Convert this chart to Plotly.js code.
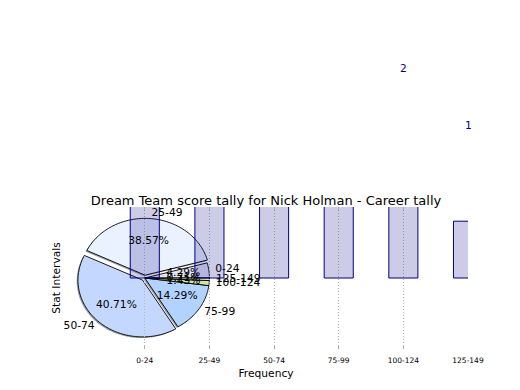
<!DOCTYPE html>
<html>
<head>
<meta charset="utf-8">
<script src="https://cdn.plot.ly/plotly-3.0.1.min.js"></script>
<style>html,body{margin:0;padding:0;background:#fff;}#chart{width:520px;height:390px;}</style>
</head>
<body>
<div id="chart"></div>
<script>
// ---- data ----
const categories = ['0-24', '25-49', '50-74', '75-99', '100-124', '125-149'];
const counts = [6, 54, 57, 20, 2, 1];
const explode = [0, 0.05, 0.05, 0, 0, 0];
const sliceColors = ['#E4E4F4', '#EAF1FF', '#C4D8FF', '#B2D2FF', '#D2E6A4', '#EEF0C8'];

// ---- styling constants ----
const FONT = 'DejaVu Sans, sans-serif';
const NAVY = '#000080';
const barLabelOffset = 1.69;
const yRange = [-1.25, 1.25];
const xRange = [-1.25, 5];
const W = 520, H = 390, M = {l: 64, r: 52, t: 207, b: 41};

const total = counts.reduce((a, b) => a + b, 0);
const xIdx = categories.map((_, i) => i);

function hexToRgb(h) {
  const v = parseInt(h.slice(1), 16);
  return [(v >> 16) & 255, (v >> 8) & 255, v & 255];
}

const shadowShapes = [];
const wedgeShapes = [];
const labX = [], labY = [], labT = [], labPos = [];
let t1 = 0;
counts.forEach((c, i) => {
  const t2 = t1 + 360 * c / total;
  const mid = (t1 + t2) / 2 * Math.PI / 180;
  const ox = explode[i] * Math.cos(mid), oy = explode[i] * Math.sin(mid);
  const n = Math.max(2, Math.ceil((t2 - t1) / 1.5));
  const makePath = (dx, dy) => {
    const pts = [[ox + dx, oy + dy]];
    for (let k = 0; k <= n; k++) {
      const a = (t1 + (t2 - t1) * k / n) * Math.PI / 180;
      pts.push([ox + dx + Math.cos(a), oy + dy + Math.sin(a)]);
    }
    return 'M ' + pts.map(p => p[0].toFixed(4) + ',' + p[1].toFixed(4)).join(' L ') + ' Z';
  };
  const rgb = hexToRgb(sliceColors[i]);
  const sc = 'rgba(' + rgb.map(v => Math.round(v * 0.3)).join(',') + ',0.5)';
  shadowShapes.push({type: 'path', xref: 'x', yref: 'y', layer: 'below', path: makePath(-0.02, -0.02),
    fillcolor: sc, line: {width: 0}});
  wedgeShapes.push({type: 'path', xref: 'x', yref: 'y', layer: 'below', path: makePath(0, 0),
    fillcolor: sliceColors[i], line: {color: '#000', width: 0.9}});
  // outer label
  const lx = ox + 1.1 * Math.cos(mid), ly = oy + 1.1 * Math.sin(mid);
  labX.push(lx); labY.push(ly); labT.push(categories[i]);
  labPos.push(lx > 0 ? 'middle right' : 'middle left');
  // percent label
  labX.push(ox + 0.6 * Math.cos(mid)); labY.push(oy + 0.6 * Math.sin(mid));
  labT.push((100 * c / total).toFixed(2) + '%'); labPos.push('middle center');
  t1 = t2;
});

// bar value labels, placed above the plot area like the reference;
// labels that would land entirely above the canvas are not drawn (as in the reference)
const plotH = H - M.t - M.b;
const paperTop = (H - M.b - 8) / plotH;
const barAnnotations = counts.map((v, i) => ({
  xref: 'x', x: i, yref: 'paper',
  y: (v + barLabelOffset - yRange[0]) / (yRange[1] - yRange[0]),
  text: String(v), showarrow: false, xanchor: 'center', yanchor: 'middle',
  font: {family: FONT, size: 10.7, color: NAVY}
})).filter(a => a.y < paperTop);

const traces = [
  {
    type: 'bar', x: xIdx, y: counts, width: 0.45,
    marker: {color: 'rgba(0,0,128,0.2)', line: {color: NAVY, width: 1}},
    hoverinfo: 'skip', showlegend: false
  },
  {
    type: 'scatter', mode: 'text', x: labX, y: labY, text: labT, textposition: labPos,
    textfont: {family: FONT, size: 10.7, color: '#000'}, cliponaxis: false,
    hoverinfo: 'skip', showlegend: false
  }
];

const layout = {
  width: W, height: H,
  margin: {l: M.l, r: M.r, t: M.t, b: M.b, pad: 0},
  paper_bgcolor: '#fff', plot_bgcolor: 'rgba(0,0,0,0)',
  font: {family: FONT, color: '#000'},
  title: {text: 'Dream Team score tally for Nick Holman - Career tally',
    font: {family: FONT, size: 13, color: '#000'},
    x: 0.5, xref: 'paper', xanchor: 'center', y: 1 - 200 / 390, yref: 'container', yanchor: 'middle'},
  xaxis: {
    range: xRange, tickmode: 'array', tickvals: xIdx, ticktext: categories,
    tickfont: {family: FONT, size: 7.5, color: '#000'},
    ticks: 'inside', ticklen: 3, tickcolor: '#aaaaaa', mirror: 'ticks',
    ticklabelstandoff: 5,
    showline: false, zeroline: false,
    showgrid: true, gridcolor: '#b4b4b4', griddash: '1px,2px', gridwidth: 1,
    title: {text: 'Frequency', font: {family: FONT, size: 10.7, color: '#000'}, standoff: 6},
    automargin: false, fixedrange: true
  },
  yaxis: {
    range: yRange, showticklabels: false, ticks: '', showgrid: false,
    zeroline: false, showline: false,
    title: {text: 'Stat Intervals', font: {family: FONT, size: 10.7, color: '#000'}, standoff: 0},
    automargin: false, fixedrange: true
  },
  shapes: shadowShapes.concat(wedgeShapes),
  annotations: barAnnotations,
  showlegend: false,
  bargap: 0
};

Plotly.newPlot('chart', traces, layout, {displayModeBar: false, staticPlot: true});
</script>
</body>
</html>
